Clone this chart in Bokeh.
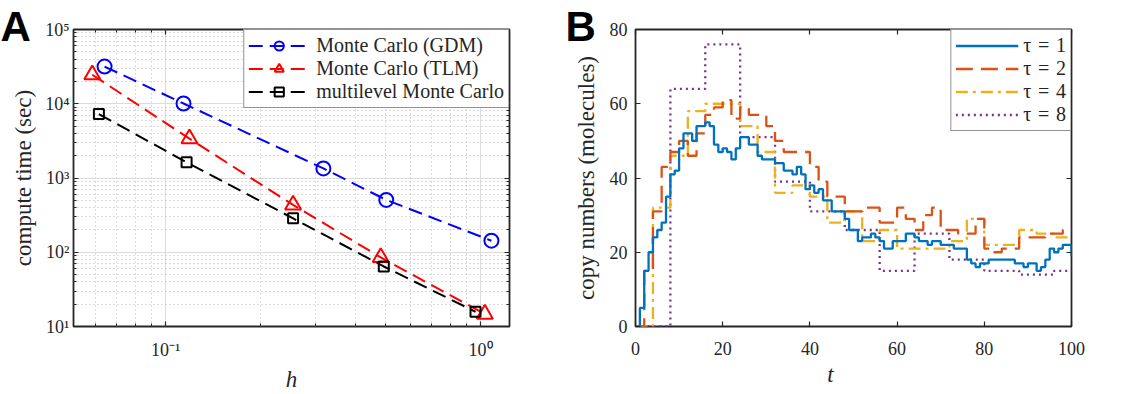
from bokeh.plotting import figure
from bokeh.models import (FixedTicker, LogAxis, LinearAxis, Range1d, Legend,
                          LegendItem, Title)
from bokeh.layouts import row
from bokeh.embed import file_html
from bokeh.resources import INLINE

SERIF = "Liberation Serif"
INK = "#262626"

# ---------------- Panel A: compute time vs step size h ----------------
h_gdm = [0.064, 0.114, 0.317, 0.502, 1.083]
time_gdm = [31700, 10070, 1345, 507, 143]
h_tlm = [0.0585, 0.119, 0.254, 0.482, 1.032]
time_tlm = [24600, 3390, 434, 85.3, 14.7]
h_mlmc = [0.0614, 0.1166, 0.254, 0.493, 0.964]
time_mlmc = [7260, 1629, 286, 64.3, 15.8]

a_xticks = [0.1, 1]
a_xlabels = ["10\u207b\u00b9", "10\u2070"]
a_yticks = [10, 100, 1000, 10000, 100000]
a_ylabels = ["10\u00b9", "10\u00b2", "10\u00b3", "10\u2074", "10\u2075"]
a_xminor = [0.06, 0.07, 0.08, 0.09, 0.2, 0.3, 0.4, 0.5, 0.6, 0.7, 0.8, 0.9]
a_yminor = [m * d for d in [10, 100, 1000, 10000] for m in range(2, 10)]

# ---------------- Panel B: copy numbers over time ----------------
t_tau1 = list(range(0, 101))
n_tau1 = [0, 5, 15, 20, 24, 26, 28, 35, 41, 42,
          48, 52, 52, 50, 54, 54, 55, 54, 49, 47,
          48, 47, 45, 48, 51, 51, 49, 49, 46, 45,
          45, 45, 44, 44, 42, 42, 41, 43, 41, 37,
          38, 36, 37, 34, 34, 31, 31, 31, 29, 26,
          26, 23, 24, 24, 25, 24, 23, 21, 21, 23,
          23, 23, 25, 25, 24, 23, 23, 22, 23, 23,
          22, 22, 22, 21, 21, 21, 18, 17, 16, 17,
          17, 18, 18, 18, 18, 18, 18, 17, 17, 16,
          17, 17, 15, 16, 18, 21, 20, 21, 22, 22,
          19]
t_tau2 = list(range(0, 101, 2))
n_tau2 = [0, 15, 31, 43, 47, 50, 46, 52, 57, 59,
          61, 56, 59, 57, 57, 54, 50, 47, 47, 47,
          43, 39, 35, 35, 31, 31, 32, 32, 28, 28,
          32, 29, 26, 30, 32, 26, 26, 25, 25, 29,
          21, 20, 21, 21, 24, 24, 24, 25, 25, 26,
          26]
t_tau4 = list(range(0, 101, 4))
n_tau4 = [0, 32, 46, 58, 60, 60, 54, 47, 36, 38,
          35, 28, 31, 23, 26, 21, 21, 21, 23, 29,
          22, 22, 26, 25, 24, 24]
t_tau8 = [0, 8, 16, 24, 32, 40, 48, 56, 64, 72, 80, 88, 96, 100]
n_tau8 = [0, 64, 76, 51, 39, 31, 26, 15, 25, 18, 15, 14, 15, 15]

b_xticks = [0, 20, 40, 60, 80, 100]
b_yticks = [0, 20, 40, 60, 80]


def style_axis(ax, ticker, show_labels=True, overrides=None):
    ax.ticker = ticker
    ax.axis_line_color = None
    ax.major_tick_in = 5
    ax.major_tick_out = 0
    ax.minor_tick_in = 3
    ax.minor_tick_out = 0
    ax.major_tick_line_color = INK
    ax.minor_tick_line_color = INK
    ax.major_tick_line_width = 1.2
    ax.minor_tick_line_width = 1
    ax.major_label_text_font = SERIF
    if show_labels:
        ax.major_label_text_font_size = "18px"
        ax.major_label_text_color = INK
    else:
        ax.major_label_text_font_size = "2px"
        ax.major_label_text_color = None
        ax.major_label_standoff = 0
    if overrides:
        ax.major_label_overrides = overrides


def frame_style(p):
    p.outline_line_color = INK
    p.outline_line_width = 1.8
    p.background_fill_color = "white"
    p.border_fill_color = "white"


def style_legend(leg):
    leg.location = "top_right"
    leg.margin = 0
    leg.padding = 4
    leg.spacing = 0
    leg.glyph_height = 23
    leg.label_height = 23
    leg.label_text_font = SERIF
    leg.label_text_font_size = "20px"
    leg.label_text_color = INK
    leg.border_line_color = INK
    leg.border_line_width = 1.8
    leg.background_fill_color = "white"
    leg.background_fill_alpha = 1


def panel_letter(p, letter, dx):
    # bold panel letter at the top-left corner of the figure canvas; the
    # negative standoff keeps the title strip inside the 29 px top border
    p.add_layout(Title(text=letter, align="left", offset=dx,
                       vertical_align="bottom", standoff=-40,
                       text_font="Liberation Sans", text_font_style="bold",
                       text_font_size="42px", text_color="black"), "above")


# ---- figure A ----
pa = figure(width=560, height=394, x_axis_type="log", y_axis_type="log",
            x_range=Range1d(0.051, 1.236), y_range=Range1d(10, 1e5),
            output_backend="svg", toolbar_location=None,
            min_border_left=73, min_border_right=51,
            min_border_top=29, min_border_bottom=63)
frame_style(pa)

ax_t = LogAxis()
ax_r = LogAxis()
pa.add_layout(ax_t, "above")
pa.add_layout(ax_r, "right")

xt = FixedTicker(ticks=a_xticks, minor_ticks=a_xminor)
yt = FixedTicker(ticks=a_yticks, minor_ticks=a_yminor)
style_axis(pa.below[0], xt, overrides=dict(zip(a_xticks, a_xlabels)))
style_axis(pa.left[0], yt, overrides=dict(zip(a_yticks, a_ylabels)))
style_axis(ax_t, xt, show_labels=False)
style_axis(ax_r, yt, show_labels=False)
pa.below[0].major_label_standoff = 13
pa.left[0].major_label_standoff = 4

for g in (pa.xgrid[0], pa.ygrid[0]):
    g.grid_line_color = "#dcdcdc"
    g.grid_line_width = 1
    g.minor_grid_line_color = "#b8b8b8"
    g.minor_grid_line_width = 1
    g.minor_grid_line_dash = "1 3"

pa.below[0].axis_label = "h"
pa.left[0].axis_label = "compute time (sec)"
for ax in (pa.below[0], pa.left[0]):
    ax.axis_label_text_font = SERIF
    ax.axis_label_text_font_size = "23px"
    ax.axis_label_text_color = INK
pa.below[0].axis_label_standoff = 4
pa.left[0].axis_label_standoff = 6
pa.below[0].axis_label_text_font_style = "italic"
pa.left[0].axis_label_text_font_style = "normal"

series_a = [
    ("Monte Carlo (GDM)", h_gdm, time_gdm, "#0000ff", "circle", 14),
    ("Monte Carlo (TLM)", h_tlm, time_tlm, "#ff0000", "triangle", 16),
    ("multilevel Monte Carlo", h_mlmc, time_mlmc, "#000000", "square", 10),
]
items_a = []
for name, xs, ys, col, mk, sz in series_a:
    ln = pa.line(xs, ys, line_color=col, line_width=2, line_dash="14 7")
    sc = pa.scatter(xs, ys, marker=mk, size=sz, fill_color=None,
                    line_color=col, line_width=2)
    items_a.append(LegendItem(label=name, renderers=[ln, sc]))

leg_a = Legend(items=items_a, glyph_width=61, label_standoff=7)
style_legend(leg_a)
pa.add_layout(leg_a)
panel_letter(pa, "A", -73)

# ---- figure B ----
pb = figure(width=565, height=394, x_range=Range1d(0, 100),
            y_range=Range1d(0, 80), output_backend="svg",
            toolbar_location=None, min_border_left=75, min_border_right=54,
            min_border_top=29, min_border_bottom=63)
frame_style(pb)
pb.xgrid.visible = False
pb.ygrid.visible = False

bx_t = LinearAxis()
by_r = LinearAxis()
pb.add_layout(bx_t, "above")
pb.add_layout(by_r, "right")
bxt = FixedTicker(ticks=b_xticks, minor_ticks=[])
byt = FixedTicker(ticks=b_yticks, minor_ticks=[])
style_axis(pb.below[0], bxt)
style_axis(pb.left[0], byt)
style_axis(bx_t, bxt, show_labels=False)
style_axis(by_r, byt, show_labels=False)
pb.below[0].major_label_standoff = 15
pb.left[0].major_label_standoff = 8

# trailing em spaces keep the italic t where the original label sits
pb.below[0].axis_label = "t\u2003\u2003"
pb.left[0].axis_label = "copy numbers (molecules)"
for ax in (pb.below[0], pb.left[0]):
    ax.axis_label_text_font = SERIF
    ax.axis_label_text_font_size = "23px"
    ax.axis_label_text_color = INK
pb.below[0].axis_label_standoff = 4
pb.left[0].axis_label_standoff = 8
pb.below[0].axis_label_text_font_style = "italic"
pb.left[0].axis_label_text_font_style = "normal"

series_b = [
    ("\u03c4\u2004=\u20048", t_tau8, n_tau8, "#7e2f8e", "2 4"),
    ("\u03c4\u2004=\u20044", t_tau4, n_tau4, "#edb120", "12 5 3 5"),
    ("\u03c4\u2004=\u20042", t_tau2, n_tau2, "#d95319", "17 8"),
    ("\u03c4\u2004=\u20041", t_tau1, n_tau1, "#0072bd", "solid"),
]
steps = {}
for name, xs, ys, col, dash in series_b:
    steps[name] = pb.step(xs, ys, mode="after", line_color=col,
                          line_width=2.3, line_dash=dash)
legend_items_b = [LegendItem(label=n, renderers=[steps[n]])
                  for n, *_ in reversed(series_b)]

leg_b = Legend(items=legend_items_b, glyph_width=63, label_standoff=5)
style_legend(leg_b)
pb.add_layout(leg_b)
panel_letter(pb, "B", -70)

layout = row(pa, pb)
open("out.html", "w").write(file_html(layout, INLINE))
